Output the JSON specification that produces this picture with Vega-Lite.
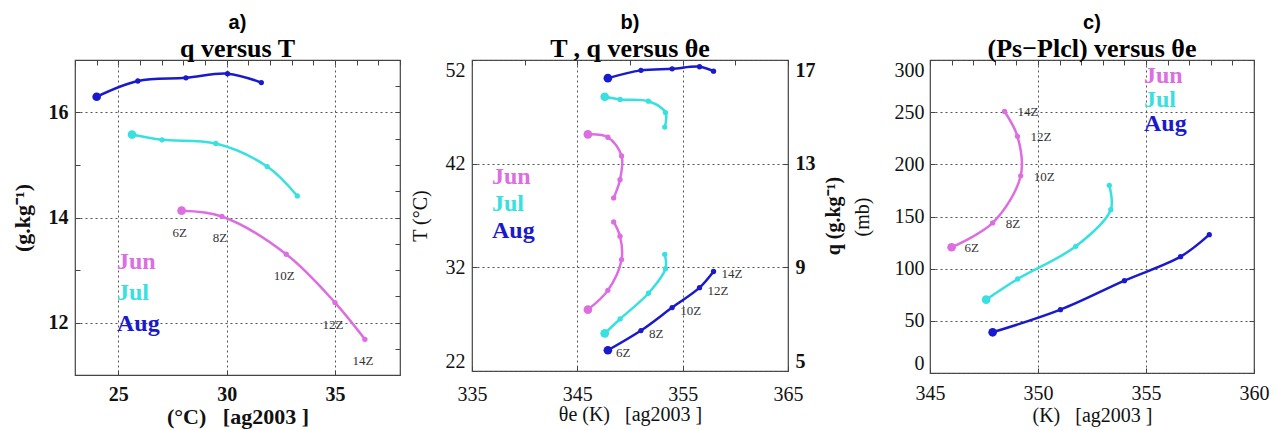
{
  "$schema": "https://vega.github.io/schema/vega-lite/v6.json",
  "padding": {"left": 10, "top": 12, "right": 5, "bottom": 3},
  "spacing": 7,
  "bounds": "full",
  "resolve": {"legend": {"color": "independent"}},
  "datasets": {
    "obs": [
      {"month": "Jun", "hour": 6, "label": "6Z", "T": 27.92, "q": 14.13, "thetae": 346.0, "dp": 120.5},
      {"month": "Jun", "hour": 8, "label": "8Z", "T": 29.78, "q": 14.02, "thetae": 347.9, "dp": 143.8},
      {"month": "Jun", "hour": 10, "label": "10Z", "T": 32.75, "q": 13.3, "thetae": 349.2, "dp": 189.0},
      {"month": "Jun", "hour": 12, "label": "12Z", "T": 35.0, "q": 12.38, "thetae": 349.05, "dp": 226.8},
      {"month": "Jun", "hour": 14, "label": "14Z", "T": 36.38, "q": 11.68, "thetae": 348.45, "dp": 250.7},
      {"month": "Jul", "hour": 6, "label": "6Z", "T": 25.63, "q": 15.58, "thetae": 347.6, "dp": 70.3},
      {"month": "Jul", "hour": 8, "label": "8Z", "T": 27.02, "q": 15.48, "thetae": 349.06, "dp": 90.1},
      {"month": "Jul", "hour": 10, "label": "10Z", "T": 29.5, "q": 15.41, "thetae": 351.75, "dp": 121.4},
      {"month": "Jul", "hour": 12, "label": "12Z", "T": 31.87, "q": 14.97, "thetae": 353.37, "dp": 156.5},
      {"month": "Jul", "hour": 14, "label": "14Z", "T": 33.26, "q": 14.41, "thetae": 353.3, "dp": 179.9},
      {"month": "Aug", "hour": 6, "label": "6Z", "T": 24.0, "q": 16.3, "thetae": 347.9, "dp": 39.0},
      {"month": "Aug", "hour": 8, "label": "8Z", "T": 25.9, "q": 16.6, "thetae": 351.04, "dp": 60.7},
      {"month": "Aug", "hour": 10, "label": "10Z", "T": 28.12, "q": 16.66, "thetae": 354.0, "dp": 88.5},
      {"month": "Aug", "hour": 12, "label": "12Z", "T": 30.04, "q": 16.74, "thetae": 356.6, "dp": 111.5},
      {"month": "Aug", "hour": 14, "label": "14Z", "T": 31.6, "q": 16.57, "thetae": 357.93, "dp": 132.6}
    ]
  },
  "config": {
    "view": {"stroke": "#444", "strokeWidth": 1.2},
    "font": "Liberation Serif",
    "title": {
      "font": "Liberation Sans", "fontSize": 20, "fontWeight": "bold", "color": "#000",
      "subtitleFont": "Liberation Serif", "subtitleFontSize": 26, "subtitleFontWeight": "bold",
      "subtitleColor": "#000", "subtitlePadding": 0, "anchor": "middle", "offset": -2.5
    },
    "axis": {
      "labelFont": "Liberation Serif", "labelFontSize": 20, "labelColor": "#111",
      "titleFont": "Liberation Serif", "titleFontSize": 20, "titleFontWeight": "normal", "titleColor": "#111",
      "domain": false, "tickColor": "#444", "tickSize": -5, "tickWidth": 1,
      "gridColor": "#555", "gridDash": [2, 3], "gridWidth": 1, "labelFlush": false,
      "labelOverlap": false, "labelPadding": 12
    },
    "axisY": {"labelFlush": true},
    "legend": {
      "orient": "none", "padding": 0, "labelFont": "Liberation Serif", "labelFontSize": 24,
      "labelFontWeight": "bold", "symbolOpacity": 0, "symbolSize": 0, "symbolStrokeWidth": 0,
      "labelOffset": 0
    },
    "text": {"font": "Liberation Serif", "fontSize": 13, "color": "#333"}
  },
  "hconcat": [
    {
      "width": 325,
      "height": 315,
      "title": {"text": "a)", "subtitle": "q versus T"},
      "data": {"name": "obs"},
      "layer": [
        {
          "layer": [
            {
              "mark": {"type": "line", "interpolate": "catmull-rom", "strokeWidth": 2.5},
              "encoding": {
                "x": {
                  "field": "T", "type": "quantitative",
                  "scale": {"domain": [23, 38], "nice": false, "zero": false},
                  "axis": {
                    "orient": "bottom", "grid": true, "labelOverlap": false,
                    "values": [25, 30, 35],
                    "title": "(°C)\u00a0\u00a0\u00a0[ag2003 ]", "labelPadding": 14,
                    "labelFontWeight": "bold", "titleFontWeight": "bold", "titleFontSize": 22, "titlePadding": 2
                  }
                },
                "y": {
                  "field": "q", "type": "quantitative",
                  "scale": {"domain": [11, 17], "nice": false, "zero": false},
                  "axis": {
                    "orient": "left", "grid": true, "labelOverlap": false,
                    "values": [11, 11.5, 12, 12.5, 13, 13.5, 14, 14.5, 15, 15.5, 16, 16.5, 17],
                    "labelExpr": "datum.value % 2 === 0 ? datum.label : ''",
                    "gridOpacity": {"condition": {"test": "datum.value % 2 === 0", "value": 1}, "value": 0},
                    "title": "(g.kg⁻¹)",
                    "labelFontWeight": "bold", "titleFontWeight": "bold", "titleFontSize": 22, "titlePadding": 14
                  }
                },
                "color": {
                  "field": "month", "type": "nominal",
                  "scale": {"domain": ["Jun", "Jul", "Aug"], "range": ["#dc6ee1", "#38e0e0", "#1a1acd"]},
                  "legend": {
                    "title": null, "legendX": 18, "legendY": 190, "rowPadding": 7,
                    "encode": {"labels": {"update": {"fill": {"signal": "datum.value === 'Jun' ? '#dc6ee1' : datum.value === 'Jul' ? '#38e0e0' : '#1a1acd'"}}}}
                  }
                },
                "order": {"field": "hour", "type": "quantitative"}
              }
            },
            {
              "mark": {"type": "point", "filled": true, "size": 28, "opacity": 1},
              "encoding": {
                "x": {"field": "T", "type": "quantitative"},
                "y": {"field": "q", "type": "quantitative"},
                "color": {"field": "month", "type": "nominal", "legend": null}
              }
            },
            {
              "transform": [{"filter": "datum.month === 'Jun'"}],
              "mark": {"type": "text", "dx": -2, "dy": 22},
              "encoding": {
                "x": {"field": "T", "type": "quantitative"},
                "y": {"field": "q", "type": "quantitative"},
                "text": {"field": "label"}
              }
            }
          ]
        },
        {
          "transform": [{"filter": "datum.hour === 6"}],
          "mark": {"type": "point", "filled": true, "size": 75, "opacity": 1},
          "encoding": {
            "x": {
              "field": "T", "type": "quantitative",
              "axis": {
                "orient": "top", "values": [23, 24, 25, 26, 27, 28, 29, 30, 31, 32, 33, 34, 35, 36, 37, 38],
                "labels": false, "grid": false, "title": null
              }
            },
            "y": {
              "field": "q", "type": "quantitative",
              "axis": {
                "orient": "right", "values": [11, 11.5, 12, 12.5, 13, 13.5, 14, 14.5, 15, 15.5, 16, 16.5, 17],
                "labels": false, "grid": false, "title": null
              }
            },
            "color": {"field": "month", "type": "nominal", "legend": null}
          }
        }
      ]
    },
    {
      "width": 316,
      "height": 311,
      "title": {"text": "b)", "subtitle": "T , q versus θe"},
      "data": {"name": "obs"},
      "resolve": {"scale": {"y": "independent"}},
      "layer": [
        {
          "layer": [
            {
              "mark": {"type": "line", "interpolate": "catmull-rom", "strokeWidth": 2.5},
              "encoding": {
                "x": {
                  "field": "thetae", "type": "quantitative",
                  "scale": {"domain": [335, 365], "nice": false, "zero": false},
                  "axis": {"orient": "bottom", "grid": true, "labelOverlap": false, "values": [335, 345, 355, 365], "title": "θe (K)\u00a0\u00a0\u00a0[ag2003 ]", "labelPadding": 18, "titlePadding": 0}
                },
                "y": {
                  "field": "T", "type": "quantitative",
                  "scale": {"domain": [22, 52], "nice": false, "zero": false},
                  "axis": {"orient": "left", "grid": true, "labelOverlap": false, "values": [22, 32, 42, 52], "title": "T (°C)", "titlePadding": 15}
                },
                "color": {
                  "field": "month", "type": "nominal",
                  "scale": {"domain": ["Jun", "Jul", "Aug"], "range": ["#dc6ee1", "#38e0e0", "#1a1acd"]},
                  "legend": {
                    "title": null, "legendX": -4, "legendY": 105, "rowPadding": 3,
                    "encode": {"labels": {"update": {"fill": {"signal": "datum.value === 'Jun' ? '#dc6ee1' : datum.value === 'Jul' ? '#38e0e0' : '#1a1acd'"}}}}
                  }
                },
                "order": {"field": "hour", "type": "quantitative"}
              }
            },
            {
              "mark": {"type": "point", "filled": true, "size": 28, "opacity": 1},
              "encoding": {
                "x": {"field": "thetae", "type": "quantitative"},
                "y": {"field": "T", "type": "quantitative"},
                "color": {"field": "month", "type": "nominal", "legend": null}
              }
            },
            {
              "transform": [{"filter": "datum.hour === 6"}],
              "mark": {"type": "point", "filled": true, "size": 75, "opacity": 1},
              "encoding": {
                "x": {"field": "thetae", "type": "quantitative"},
                "y": {"field": "T", "type": "quantitative"},
                "color": {"field": "month", "type": "nominal", "legend": null}
              }
            },
            {
              "transform": [{"filter": "datum.month === 'Aug'"}],
              "mark": {"type": "text", "align": "left", "dx": 8, "dy": 3},
              "encoding": {
                "x": {"field": "thetae", "type": "quantitative"},
                "y": {"field": "T", "type": "quantitative"},
                "text": {"field": "label"}
              }
            }
          ]
        },
        {
          "layer": [
            {
              "mark": {"type": "line", "interpolate": "catmull-rom", "strokeWidth": 2.5},
              "encoding": {
                "x": {
                  "field": "thetae", "type": "quantitative",
                  "axis": {"orient": "top", "values": [335, 340, 345, 350, 355, 360, 365], "labels": false, "grid": false, "title": null}
                },
                "y": {
                  "field": "q", "type": "quantitative",
                  "scale": {"domain": [5, 17], "nice": false, "zero": false},
                  "axis": {
                    "orient": "right", "values": [5, 9, 13, 17], "grid": false, "labelOverlap": false, "title": "q (g.kg⁻¹)",
                    "titleAngle": 270, "titleBaseline": "top",
                    "labelFontWeight": "bold", "titleFontWeight": "bold", "titlePadding": 8
                  }
                },
                "color": {"field": "month", "type": "nominal", "legend": null},
                "order": {"field": "hour", "type": "quantitative"}
              }
            },
            {
              "mark": {"type": "point", "filled": true, "size": 28, "opacity": 1},
              "encoding": {
                "x": {"field": "thetae", "type": "quantitative"},
                "y": {"field": "q", "type": "quantitative"},
                "color": {"field": "month", "type": "nominal", "legend": null}
              }
            },
            {
              "transform": [{"filter": "datum.hour === 6"}],
              "mark": {"type": "point", "filled": true, "size": 75, "opacity": 1},
              "encoding": {
                "x": {"field": "thetae", "type": "quantitative"},
                "y": {"field": "q", "type": "quantitative"},
                "color": {"field": "month", "type": "nominal", "legend": null}
              }
            }
          ]
        }
      ]
    },
    {
      "width": 324,
      "height": 313,
      "title": {"text": "c)", "subtitle": "(Ps−Plcl) versus θe"},
      "data": {"name": "obs"},
      "layer": [
        {
          "layer": [
            {
              "mark": {"type": "line", "interpolate": "catmull-rom", "strokeWidth": 2.5},
              "encoding": {
                "x": {
                  "field": "thetae", "type": "quantitative",
                  "scale": {"domain": [345, 360], "nice": false, "zero": false},
                  "axis": {
                    "orient": "bottom", "grid": true, "labelOverlap": false,
                    "values": [345, 350, 355, 360],
                    "title": "(K)\u00a0\u00a0\u00a0[ag2003 ]", "labelPadding": 15, "titlePadding": 2
                  }
                },
                "y": {
                  "field": "dp", "type": "quantitative",
                  "scale": {"domain": [0, 300], "nice": false, "zero": false},
                  "axis": {"orient": "left", "grid": true, "labelOverlap": false, "values": [0, 50, 100, 150, 200, 250, 300], "title": "(mb)", "labelPadding": 11, "titlePadding": 22}
                },
                "color": {
                  "field": "month", "type": "nominal",
                  "scale": {"domain": ["Jun", "Jul", "Aug"], "range": ["#dc6ee1", "#38e0e0", "#1a1acd"]},
                  "legend": {
                    "title": null, "legendX": 190, "legendY": 4, "rowPadding": -6,
                    "encode": {"labels": {"update": {"fill": {"signal": "datum.value === 'Jun' ? '#dc6ee1' : datum.value === 'Jul' ? '#38e0e0' : '#1a1acd'"}}}}
                  }
                },
                "order": {"field": "hour", "type": "quantitative"}
              }
            },
            {
              "mark": {"type": "point", "filled": true, "size": 28, "opacity": 1},
              "encoding": {
                "x": {"field": "thetae", "type": "quantitative"},
                "y": {"field": "dp", "type": "quantitative"},
                "color": {"field": "month", "type": "nominal", "legend": null}
              }
            },
            {
              "transform": [{"filter": "datum.month === 'Jun'"}],
              "mark": {"type": "text", "align": "left", "dx": 13, "dy": 1},
              "encoding": {
                "x": {"field": "thetae", "type": "quantitative"},
                "y": {"field": "dp", "type": "quantitative"},
                "text": {"field": "label"}
              }
            }
          ]
        },
        {
          "transform": [{"filter": "datum.hour === 6"}],
          "mark": {"type": "point", "filled": true, "size": 75, "opacity": 1},
          "encoding": {
            "x": {
              "field": "thetae", "type": "quantitative",
              "axis": {
                "orient": "top", "values": [345, 346, 347, 348, 349, 350, 351, 352, 353, 354, 355, 356, 357, 358, 359, 360],
                "labels": false, "grid": false, "title": null
              }
            },
            "y": {
              "field": "dp", "type": "quantitative",
              "axis": {"orient": "right", "values": [0, 50, 100, 150, 200, 250, 300], "labels": false, "grid": false, "title": null}
            },
            "color": {"field": "month", "type": "nominal", "legend": null}
          }
        }
      ]
    }
  ]
}
